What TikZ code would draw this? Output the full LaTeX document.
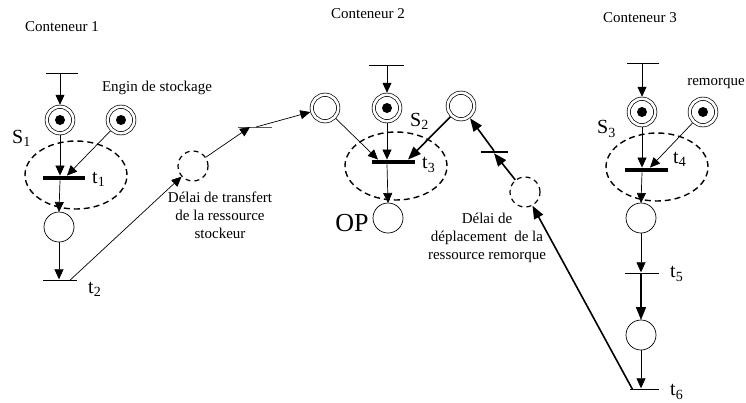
\documentclass[tikz,border=0pt]{standalone}
\usepackage{fontspec}
\setmainfont{Liberation Serif}
\usetikzlibrary{arrows.meta,shapes.geometric,calc}
\newcommand\sublbl[2]{#1\raisebox{-0.35ex}{\fontsize{14}{14}\selectfont #2}}
\begin{document}
\begin{tikzpicture}[x=1pt,y=-1pt,
  place/.style={circle, draw, line width=0.7pt, minimum size=30pt, inner sep=0pt, outer sep=0pt},
  dplace/.style={circle, draw, line width=0.7pt, double, double distance=2.6pt, minimum size=26.5pt, inner sep=0pt, outer sep=2pt},
  dashplace/.style={circle, draw, line width=1.2pt, dash pattern=on 5pt off 4pt, minimum size=30pt, inner sep=0pt},
  thinbar/.style={rectangle, fill=black, inner sep=0pt, minimum height=1pt},
  thickbar/.style={rectangle, fill=black, inner sep=0pt, minimum height=4.5pt},
  zone/.style={ellipse, draw, line width=1.4pt, dash pattern=on 6pt off 4pt, minimum width=102pt, minimum height=68pt, inner sep=0pt},
  txt/.style={font=\fontsize{15}{18}\selectfont, inner sep=0pt, align=center},
  lbl/.style={font=\fontsize{20}{22}\selectfont, inner sep=0pt, anchor=west},
  arr/.style={-{Triangle[length=10pt,width=9pt]}, line width=0.7pt},
  tarr/.style={-{Triangle[length=13pt,width=10pt]}, line width=1.6pt},
  token/.style={fill=black}
]
\useasboundingbox (0,0) rectangle (746,402);

% titles
\node[txt] (c1) at (62,27) {Conteneur 1};
\node[txt] (c2) at (368,14) {Conteneur 2};
\node[txt] (c3) at (640,18) {Conteneur 3};
\node[txt] (eng) at (157,88) {Engin de stockage};
\node[txt] (rem) at (716,83) {remorque};
\node[txt] (dl1) at (220,215) {Délai de transfert\\de la ressource\\stockeur};
\node[txt] (dl2) at (487,238) {Délai de\\déplacement~ de la\\ressource remorque};

% zones
\node[zone] (e1) at (76,175) {};
\node[zone] (e2) at (396,166) {};
\node[zone] (e3) at (657,167) {};

% column 1
\node[thinbar, minimum width=32pt] (b1) at (62,73) {};
\node[dplace] (p1) at (60,120) {};
\node[dplace] (r1) at (121,120) {};
\node[thickbar, minimum width=42pt] (t1) at (64,178) {};
\node[place] (p1b) at (59,227) {};
\node[thinbar, minimum width=34pt] (t2) at (60,280) {};
\node[dashplace] (d1) at (193,166) {};
\node[thinbar, minimum width=34pt, fill=black!65] (m1) at (255,127) {};
\fill[token] (p1) circle (5pt);
\fill[token] (r1) circle (5pt);

% column 2
\node[dplace] (q1) at (325,108) {};
\node[thinbar, minimum width=35pt] (b2) at (386,65) {};
\node[dplace] (p2) at (387,108) {};
\node[dplace] (q2) at (461,106) {};
\node[thickbar, minimum width=43pt] (t3) at (393,162) {};
\node[place] (p2b) at (388,218) {};
\node[rectangle, fill=black, inner sep=0pt, minimum height=2pt, minimum width=27pt] (m2) at (494,152) {};
\node[dashplace] (d2) at (525,192) {};
\fill[token] (p2) circle (5pt);

% column 3
\node[thinbar, minimum width=32pt] (b3) at (643,63) {};
\node[dplace] (p3) at (642,112) {};
\node[dplace] (r3) at (703,112) {};
\node[thickbar, minimum width=43pt] (t4) at (646,170) {};
\node[place] (p3b) at (641,218) {};
\node[thinbar, minimum width=34pt] (t5) at (642,273) {};
\node[place] (p3c) at (641,335) {};
\node[thinbar, minimum width=29pt] (t6) at (644,389) {};
\fill[token] (p3) circle (5pt);
\fill[token] (r3) circle (5pt);

% labels
\node[lbl] (s1) at (12,138) {\sublbl{S}{1}};
\node[lbl] (lt1) at (92,179) {\sublbl{t}{1}};
\node[lbl] (lt2) at (88,289) {\sublbl{t}{2}};
\node[lbl] (s2) at (410,121) {\sublbl{S}{2}};
\node[lbl] (lt3) at (422,165) {\sublbl{t}{3}};
\node[font=\fontsize{26}{28}\selectfont, inner sep=0pt] (op) at (352,223) {OP};
\node[lbl] (s3) at (597,129) {\sublbl{S}{3}};
\node[lbl] (lt4) at (673,159) {\sublbl{t}{4}};
\node[lbl] (lt5) at (670,274) {\sublbl{t}{5}};
\node[lbl] (lt6) at (670,392) {\sublbl{t}{6}};

% arcs column 1
\draw[arr] (p1 |- b1) -- (p1.north);
\draw[arr] (p1.south) -- (p1 |- t1.north);
\draw[arr] (r1) -- ($(t1.north)+(3,0)$);
\draw[arr] (p1 |- t1.south) -- (p1b.north);
\draw[arr] (p1b.south) -- (p1b |- t2.north);
\draw[arr] ($(t2.east)+(-7,0)$) -- (d1);
\draw[arr] (d1) -- ($(m1)+(-5,0)$);
\draw[arr] ($(m1)+(1,0)$) -- (q1);

% arcs column 2
\draw[arr] (p2 |- b2) -- (p2.north);
\draw[arr] (q1) -- ($(t3.north)+(-15,0)$);
\draw[arr] (p2.south) -- (p2 |- t3.north);
\draw[tarr] (q2) -- ($(t3.north)+(15,0)$);
\draw[arr] (p2 |- t3.south) -- (p2b.north);
\draw[tarr] (d2) -- (m2.south);
\draw[tarr] (m2.north) -- (q2);

% arcs column 3
\draw[arr] (p3 |- b3) -- (p3.north);
\draw[arr] (p3.south) -- (p3 |- t4.north);
\draw[arr] (r3) -- ($(t4.north)+(4,0)$);
\draw[arr] (p3 |- t4.south) -- (p3b.north);
\draw[arr] (p3b.south) -- (p3b |- t5.north);
\draw[tarr] (p3b |- t5.south) -- (p3c.north);
\draw[arr] (p3c.south) -- (p3c |- t6.north);
\draw[tarr] ($(t6.west)+(3,0)$) -- (d2);
\end{tikzpicture}
\end{document}
